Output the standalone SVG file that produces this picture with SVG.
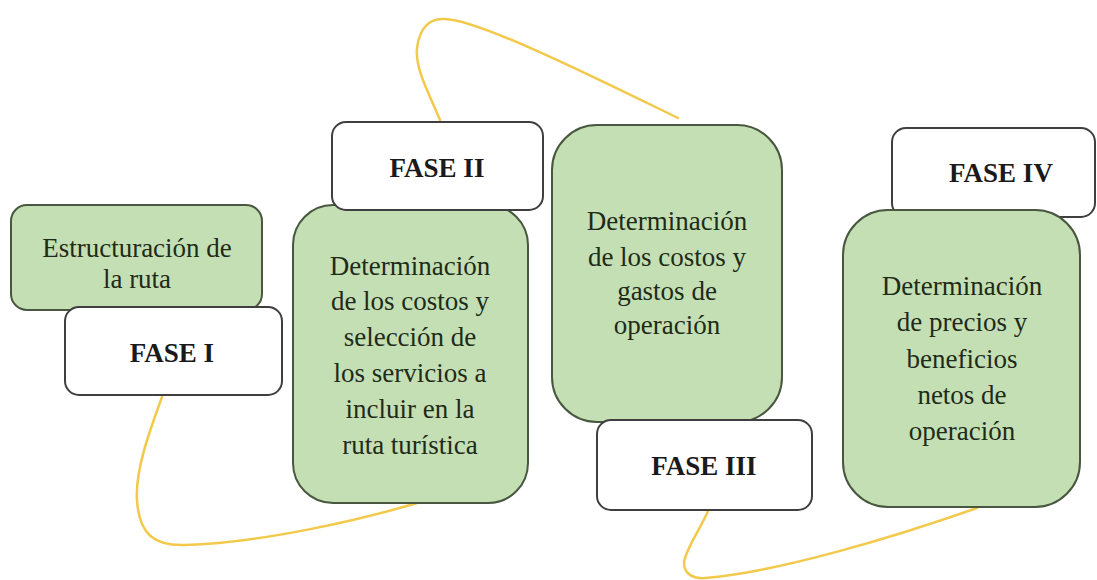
<svg xmlns="http://www.w3.org/2000/svg" width="1097" height="580" viewBox="0 0 1097 580">
<style>
.g{fill:#c5dfb4;stroke:#48573f;stroke-width:2}
.w{fill:#ffffff;stroke:#3f3f3f;stroke-width:2}
.t{font-family:'Liberation Serif','Tinos','Times New Roman','DejaVu Serif',serif;font-size:27px;fill:#1e2b18;text-anchor:middle}
.f{font-family:'Liberation Serif','Tinos','Times New Roman','DejaVu Serif',serif;font-size:27px;font-weight:bold;fill:#1a1a1a;text-anchor:middle}
.c{fill:none;stroke:#f2c94a;stroke-width:2.5;stroke-linecap:round}
</style>
<rect width="1097" height="580" fill="#ffffff"/>
<g id="connectors">
<path class="c" d="M162,397 C150,430 135,470 137,500 C139,535 155,546 185,545 C260,543 360,520 417,503"/>
<path class="c" d="M440,120 C430,95 415,70 417,48 C420,25 432,18 445,19 C480,20 600,80 678,118"/>
<path class="c" d="M708,511 C700,530 685,550 684,563 C684,575 695,579 705,578 C780,572 900,535 977,508"/>
</g>
<g id="estructuracion">
<rect class="g" x="11" y="205" width="251" height="105" rx="16"/>
<text class="t" x="137" y="257">Estructuración de</text>
<text class="t" x="137" y="288">la ruta</text>
</g>
<g id="fase1">
<rect class="w" x="65" y="307" width="217" height="88" rx="14"/>
<text class="f" x="172" y="362">FASE I</text>
</g>
<g id="box2">
<rect class="g" x="293" y="205" width="235" height="298" rx="40"/>
<text class="t" x="410" y="275">Determinación</text>
<text class="t" x="410" y="310">de los costos y</text>
<text class="t" x="410" y="346">selección de</text>
<text class="t" x="410" y="382">los servicios a</text>
<text class="t" x="410" y="418">incluir en la</text>
<text class="t" x="410" y="454">ruta turística</text>
</g>
<g id="fase2">
<rect class="w" x="332" y="122" width="211" height="88" rx="14"/>
<text class="f" x="437" y="177">FASE II</text>
</g>
<g id="box3">
<rect class="g" x="552" y="125" width="230" height="297" rx="45"/>
<text class="t" x="667" y="230">Determinación</text>
<text class="t" x="667" y="266">de los costos y</text>
<text class="t" x="667" y="300">gastos de</text>
<text class="t" x="667" y="334">operación</text>
</g>
<g id="fase3">
<rect class="w" x="597" y="420" width="215" height="90" rx="14"/>
<text class="f" x="704" y="475">FASE III</text>
</g>
<g id="fase4">
<rect class="w" x="892" y="128" width="203" height="89" rx="14"/>
<text class="f" x="1001" y="182">FASE IV</text>
</g>
<g id="box4">
<rect class="g" x="843" y="210" width="237" height="297" rx="45"/>
<text class="t" x="962" y="295">Determinación</text>
<text class="t" x="962" y="331">de precios y</text>
<text class="t" x="962" y="368">beneficios</text>
<text class="t" x="962" y="404">netos de</text>
<text class="t" x="962" y="440">operación</text>
</g>
</svg>
